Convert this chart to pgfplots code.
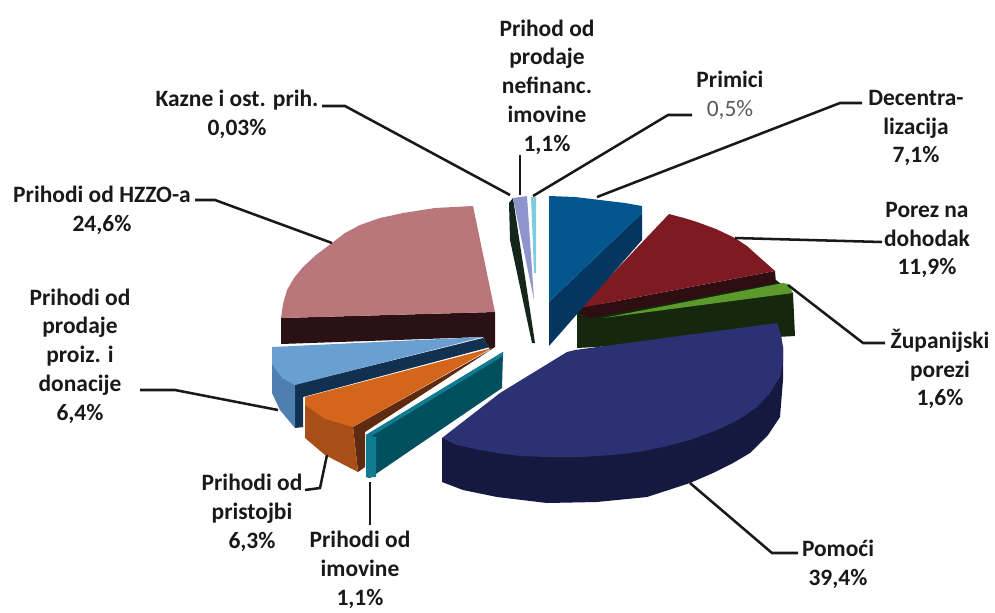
\documentclass[border=0pt]{standalone}
\usepackage{pgfplots}
\pgfplotsset{compat=1.18}
\usepackage{fontspec}
\setmainfont{Carlito}
\definecolor{pinkT}{HTML}{B9777B}
\definecolor{pinkS}{HTML}{2A1114}
\definecolor{skyT}{HTML}{6A9FD2}
\definecolor{skyA}{HTML}{4F7FAE}
\definecolor{skyS}{HTML}{12304F}
\definecolor{orT}{HTML}{D4661C}
\definecolor{orA}{HTML}{A84F18}
\definecolor{orS}{HTML}{5E2A10}
\definecolor{teT}{HTML}{0F7C92}
\definecolor{teS}{HTML}{024F5E}
\definecolor{naT}{HTML}{2C3174}
\definecolor{naS}{HTML}{15193F}
\definecolor{grT}{HTML}{5C9A2C}
\definecolor{grS}{HTML}{15280E}
\definecolor{reT}{HTML}{7D1A22}
\definecolor{reS}{HTML}{2E0E10}
\definecolor{blT}{HTML}{04568F}
\definecolor{blS}{HTML}{04365F}
\definecolor{laT}{HTML}{8E95CC}
\definecolor{laS}{HTML}{14261C}
\definecolor{cyT}{HTML}{7FCBE0}
\tikzset{lead/.style={draw=black!90!white,line width=1.9pt},
  lab/.style={font=\fontsize{17.6}{21.6}\selectfont\bfseries,align=center,text=black!90,inner sep=0pt}}
\begin{document}
\begin{tikzpicture}
\begin{axis}[scale only axis,width=746.25pt,height=459pt,xmin=0,xmax=995,ymin=0,ymax=612,y dir=reverse,hide axis,clip=false,no markers]
% Pink slice
\addplot[fill=pinkS,draw=none] coordinates {(281,318)(281,344)(483,337)(490,350)(495,347)(495,312)} --cycle;
\addplot[fill=pinkT,draw=none] coordinates {(473,206)(435,208)(403,213)(380,218)(360,225)(345,233)(332,243)(316,255)(303,267)(294,278)(287,290)(283,304)(281,318)(495,312)} --cycle;
% Sky slice
\addplot[fill=skyS,draw=none] coordinates {(293,385)(483,338)(490,347)(303,397)(303,427)(295,428)} --cycle;
\addplot[fill=skyA,draw=none] coordinates {(272,364)(272,393)(280,410)(295,428)(295,385)} --cycle;
\addplot[fill=skyT,draw=none] coordinates {(272,347)(483,337)(295,385)(282,378)(272,364)} --cycle;
% Orange slice
\addplot[fill=orS,draw=none] coordinates {(492,349)(353,427)(358,472)(365,467)(365,432)} --cycle;
\addplot[fill=orA,draw=none] coordinates {(305,405)(305,438)(325,455)(358,472)(353,427)} --cycle;
\addplot[fill=orT,draw=none] coordinates {(492,348)(305,397)(305,405)(325,419)(353,427)} --cycle;
% Teal slice
\addplot[fill=teS,draw=none] coordinates {(503,352)(502,388)(370,478)(366,477)(366,435)} --cycle;
\addplot[fill=teT,draw=none] coordinates {(366,435)(376,437)(376,477)(366,477)} --cycle;
\addplot[fill=teT,draw=none] coordinates {(503,352)(366,435)(370,437)(503,356)} --cycle;
% Navy slice
\addplot[fill=naS,draw=none] coordinates {(442,438)(442,482)(463,490)(497,497)(547,503)(597,502)(647,497)(690,483)(713,473)(733,463)(750,453)(768,435)(780,417)(783,380)(783,347)} --cycle;
% Green slice
\addplot[fill=grS,draw=none] coordinates {(577,312)(585,306)(776,280)(793,293)(795,336)(577,348)} --cycle;
\addplot[fill=grT,draw=none] coordinates {(603,318)(783,283)(788,284)(793,293)} --cycle;
\addplot[fill=naT,draw=none] coordinates {(567,352)(575,350)(777,323)(781,335)(783,347)(783,362)(780,377)(770,393)(757,407)(738,420)(717,430)(690,440)(663,447)(638,452)(613,455)(580,457)(547,457)(520,456)(497,453)(475,449)(457,445)(442,438)(500,393)} --cycle;
% Red slice
\addplot[fill=reS,draw=none] coordinates {(775,271)(776,283)(590,318)(577,312)(580,308)} --cycle;
\addplot[fill=reT,draw=none] coordinates {(580,308)(669,214)(684,218)(697,222)(716,229)(735,238)(747,246)(757,255)(766,263)(775,271)} --cycle;
% Blue slice
\addplot[fill=blS,draw=none] coordinates {(642,213)(642,240)(549,346)(549,302)} --cycle;
\addplot[fill=blT,draw=none] coordinates {(549,196)(575,197)(600,200)(625,203)(642,206)(642,213)(549,302)} --cycle;
% Lavender and cyan slices
\addplot[fill=laS,draw=none] coordinates {(509,203)(510,240)(532,343)(535,343)(513,198)} --cycle;
\addplot[fill=laT,draw=none] coordinates {(513,198)(527,196)(534,300)} --cycle;
\addplot[fill=cyT,draw=none] coordinates {(531,197)(536,197)(536,273)(534,273)} --cycle;
% Leader lines
\addplot[lead] coordinates {(322,106)(345,106)(510,195)};
\addplot[lead] coordinates {(520,155)(520,195)};
\addplot[lead] coordinates {(692,115)(668,115)(533,196)};
\addplot[lead] coordinates {(862,103)(840,103)(597,197)};
\addplot[lead] coordinates {(735,238)(882,242)};
\addplot[lead] coordinates {(788,285)(863,343)(885,343)};
\addplot[lead] coordinates {(690,483)(772,553)(798,553)};
\addplot[lead] coordinates {(370,482)(370,525)};
\addplot[lead] coordinates {(327,455)(320,488)(305,490)};
\addplot[lead] coordinates {(332,243)(215,200)(195,200)};
\addplot[lead] coordinates {(278,410)(175,390)(140,390)};
% Labels
\node[lab] at (axis cs:547,87) {Prihod od\\prodaje\\nefinanc.\\imovine\\1,1\%};
\node[lab] at (axis cs:730,95) {Primici\\\textcolor{black!65}{\mdseries 0,5\%}};
\node[lab] at (axis cs:916,128) {Decentra-\\lizacija\\7,1\%};
\node[lab] at (axis cs:927,240) {Porez na\\dohodak\\11,9\%};
\node[lab] at (axis cs:940,369) {Županijski\\porezi\\1,6\%};
\node[lab] at (axis cs:838,564) {Pomoći\\39,4\%};
\node[lab] at (axis cs:360,570) {Prihodi od\\imovine\\1,1\%};
\node[lab] at (axis cs:252,513) {Prihodi od\\pristojbi\\6,3\%};
\node[lab] at (axis cs:80,356) {Prihodi od\\prodaje\\proiz. i\\donacije\\6,4\%};
\node[lab] at (axis cs:102,210) {Prihodi od HZZO-a\\24,6\%};
\node[lab] at (axis cs:237,114) {Kazne i ost. prih.\\0,03\%};
\end{axis}
\pgfresetboundingbox
\path (0,0) rectangle (746.25pt,459pt);
\end{tikzpicture}
\end{document}
